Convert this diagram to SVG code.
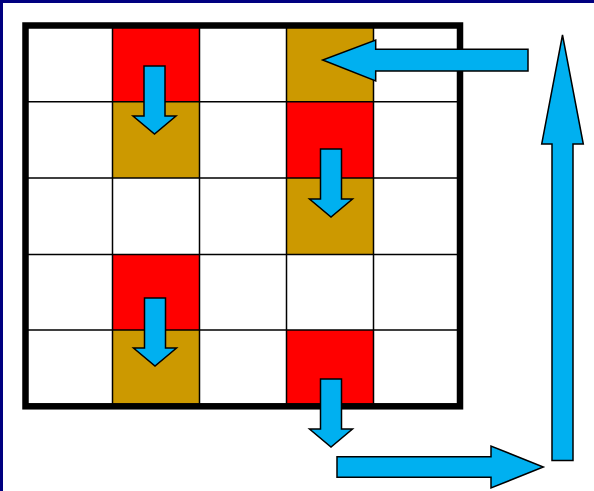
<svg xmlns="http://www.w3.org/2000/svg" width="594" height="491" viewBox="0 0 594 491">
<defs>
<style>
.red{fill:#FF0000}
.gold{fill:#CC9900}
.grid{stroke:#000;stroke-width:1.5;fill:none}
.frame{stroke:#000;stroke-width:6.5;fill:none}
.arrow{fill:#00B0F0;stroke:#000;stroke-width:1.5;stroke-linejoin:miter}
</style>
<path id="down" d="M-10.5,0 H10.5 V50 H21.5 L0,68 L-21.5,50 H-10.5 Z"/>
</defs>
<rect x="0" y="0" width="594" height="491" fill="#fff"/>
<rect x="0" y="0" width="594" height="3" fill="#000080"/>
<rect x="0" y="0" width="3" height="491" fill="#000080"/>
<g id="cells">
<rect class="red" x="112.5" y="25.5" width="87" height="76.2"/>
<rect class="gold" x="112.5" y="101.7" width="87" height="76.3"/>
<rect class="gold" x="286.5" y="25.5" width="87" height="76.2"/>
<rect class="red" x="286.5" y="101.7" width="87" height="76.3"/>
<rect class="gold" x="286.5" y="178" width="87" height="76.5"/>
<rect class="red" x="112.5" y="254.5" width="87" height="75.5"/>
<rect class="gold" x="112.5" y="330" width="87" height="76.3"/>
<rect class="red" x="286.5" y="330" width="87" height="76.3"/>
</g>
<g id="grid">
<path class="grid" d="M112.5,25.5V406.3M199.5,25.5V406.3M286.5,25.5V406.3M373.5,25.5V406.3M25.5,101.7H460M25.5,178H460M25.5,254.5H460M25.5,330H460"/>
<rect class="frame" x="25.5" y="25.5" width="434.5" height="380.8"/>
</g>
<g id="connectors">
<use href="#down" class="arrow" transform="translate(154.5,66)"/>
<use href="#down" class="arrow" transform="translate(331,149)"/>
<use href="#down" class="arrow" transform="translate(155,298)"/>
<use href="#down" class="arrow" transform="translate(331,379)"/>
<path class="arrow" d="M528,49.3 V71 H375.7 V81 L322.7,60 L375.7,40 V49.3 Z"/>
<path class="arrow" d="M337,456.7 H491 V446 L543.3,467 L491,488 V477.3 H337 Z"/>
<path class="arrow" d="M552,460.5 V144 H541.7 L562.5,35 L583.3,144 H573 V460.5 Z"/>
</g>
</svg>
